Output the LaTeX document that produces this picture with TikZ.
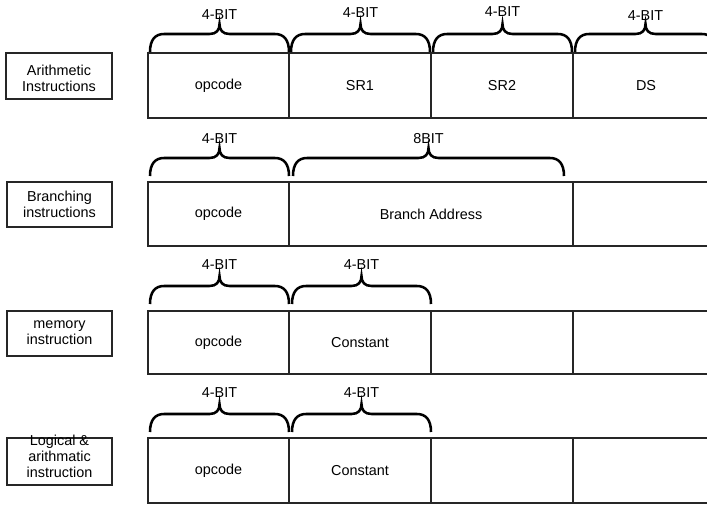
\documentclass[tikz,border=0pt]{standalone}
\usepackage{fontspec}
\setmainfont{Liberation Sans}
\newcommand\bitbrace[6]{% x1, x2, ybottom, name, text y, label
  \pgfmathsetmacro\xm{(#1+#2)/2}
  \draw[bracestyle] (#1,#3) .. controls (#1,#3-12) and (#1+5,#3-18) .. (#1+14,#3-18)
    -- (\xm-10,#3-18) .. controls (\xm-3,#3-18) and (\xm,#3-22) .. (\xm,#3-28)
    .. controls (\xm,#3-22) and (\xm+3,#3-18) .. (\xm+10,#3-18)
    -- (#2-14,#3-18) .. controls (#2-5,#3-18) and (#2,#3-12) .. (#2,#3);
  \node[bitlabel] (#4) at (\xm,#5) {#6};
}
\newcommand\fieldcell[6]{% name, x1, x2, y1, y2, text
  \node[cell, minimum width={(#3-#2)*0.75pt}, minimum height={(#5-#4)*0.75pt}]
    (#1) at ({(#2+#3)/2},{(#4+#5)/2}) {#6};
}
\newcommand\kindbox[7]{% name, x1, x2, y1, y2, text y, text
  \node[kind, minimum width={(#3-#2)*0.75pt}, minimum height={(#5-#4)*0.75pt}]
    (#1) at ({(#2+#3)/2},{(#4+#5)/2}) {};
  \node[kindtext] (#1t) at ({(#2+#3)/2},#6) {#7};
}
\begin{document}
\begin{tikzpicture}[x=0.75pt,y=-0.75pt,
  every node/.style={font=\fontsize{10.8}{12}\selectfont},
  cell/.style={draw=black!85, line width=0.8pt, inner sep=0pt, rectangle},
  kind/.style={draw=black!85, line width=0.8pt, inner sep=0pt, rectangle},
  kindtext/.style={align=center, inner sep=0pt},
  bracestyle/.style={draw=black, line width=1.9pt},
  bitlabel/.style={inner sep=0pt}]
\clip (0,0) rectangle (707,504);
\fill[white] (0,0) rectangle (707,504);

% Row 1
\kindbox{k1}{6}{112}{53}{99}{78}{Arithmetic\\Instructions}
\fieldcell{a1}{148}{289}{53}{118}{opcode}
\fieldcell{a2}{289}{431}{53}{118}{SR1}
\fieldcell{a3}{431}{573}{53}{118}{SR2}
\fieldcell{a4}{573}{720}{53}{118}{}
\node (a4t) at (646,85.5) {DS};
\bitbrace{150}{289}{52}{ba1}{15}{4-BIT}
\bitbrace{291}{430}{52}{ba2}{13}{4-BIT}
\bitbrace{433}{572}{52}{ba3}{12}{4-BIT}
\bitbrace{575}{716}{52}{ba4}{16}{4-BIT}

% Row 2
\kindbox{k2}{7}{112}{182}{227}{204}{Branching\\instructions}
\fieldcell{b1}{148}{289}{182}{246}{opcode}
\fieldcell{b2}{289}{573}{182}{246}{Branch Address}
\fieldcell{b3}{573}{720}{182}{246}{}
\bitbrace{150}{289}{176}{bb1}{139}{4-BIT}
\bitbrace{293}{564}{176}{bb2}{139}{8BIT}

% Row 3
\kindbox{k3}{7}{112}{311}{356}{332.5}{memory\\instruction}
\fieldcell{c1}{148}{289}{311}{374}{opcode}
\fieldcell{c2}{289}{431}{311}{374}{Constant}
\fieldcell{c3}{431}{573}{311}{374}{}
\fieldcell{c4}{573}{720}{311}{374}{}
\bitbrace{150}{289}{304}{bc1}{265}{4-BIT}
\bitbrace{292}{431}{304}{bc2}{265}{4-BIT}

% Row 4
\kindbox{k4}{7}{112}{438}{485}{456}{Logical \&\\arithmatic\\instruction}
\fieldcell{d1}{148}{289}{438}{503}{opcode}
\fieldcell{d2}{289}{431}{438}{503}{Constant}
\fieldcell{d3}{431}{573}{438}{503}{}
\fieldcell{d4}{573}{720}{438}{503}{}
\bitbrace{150}{289}{432}{bd1}{393}{4-BIT}
\bitbrace{292}{431}{432}{bd2}{393}{4-BIT}
\end{tikzpicture}
\end{document}
